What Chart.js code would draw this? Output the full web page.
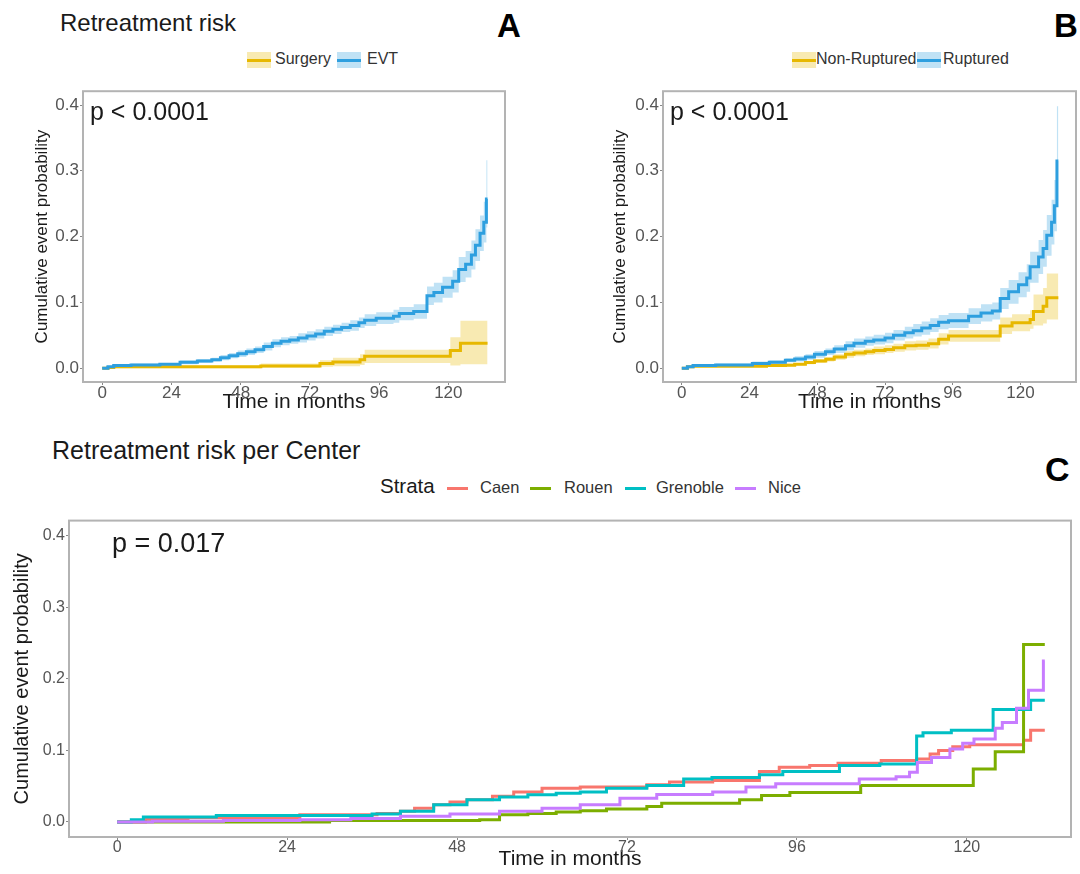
<!DOCTYPE html>
<html>
<head>
<meta charset="utf-8">
<script src="https://cdn.jsdelivr.net/npm/chart.js@4.4.1/dist/chart.umd.min.js"></script>
<style>
  body { margin: 0; background: #fff; }
  #page { position: relative; width: 1080px; height: 874px; overflow: hidden; font-family: 'Liberation Sans', Arial, sans-serif; color: #1a1a1a; }
  #page canvas { position: absolute; }
  .txt { position: absolute; white-space: nowrap; line-height: 1; z-index: 2; }
  .title { font-size: 24px; }
  .letter { font-size: 33px; font-weight: bold; color: #000; }
  .pval { font-size: 25px; }
  .leg { font-size: 16px; color: #333; }
  .sw { position: absolute; width: 24px; height: 16px; z-index: 2; }
  .sw i { position: absolute; left: 0; right: 0; top: 6.5px; height: 3px; }
  .ln { position: absolute; width: 21px; height: 3px; z-index: 2; }
</style>
</head>
<body>
<div id="page">
  <canvas id="chartA" width="512" height="335" style="left:0;top:80px"></canvas>
  <canvas id="chartB" width="500" height="335" style="left:580px;top:80px"></canvas>
  <canvas id="chartC" width="1080" height="364" style="left:0;top:510px"></canvas>

  <div class="txt title" style="left:60px;top:11px">Retreatment risk</div>
  <div class="txt letter" style="left:497px;top:9px">A</div>
  <div class="txt letter" style="left:1054px;top:9px">B</div>

  <div class="sw" style="left:247px;top:52px;background:rgba(231,184,0,0.3)"><i style="background:#E7B800"></i></div>
  <div class="txt leg" style="left:275px;top:51px">Surgery</div>
  <div class="sw" style="left:337px;top:52px;background:rgba(46,159,223,0.3)"><i style="background:#2E9FDF"></i></div>
  <div class="txt leg" style="left:367px;top:51px">EVT</div>

  <div class="sw" style="left:792px;top:52px;background:rgba(231,184,0,0.3)"><i style="background:#E7B800"></i></div>
  <div class="txt leg" style="left:816px;top:51px">Non-Ruptured</div>
  <div class="sw" style="left:917px;top:52px;background:rgba(46,159,223,0.3)"><i style="background:#2E9FDF"></i></div>
  <div class="txt leg" style="left:943px;top:51px">Ruptured</div>

  <div class="txt pval" style="left:90px;top:99px">p &lt; 0.0001</div>
  <div class="txt pval" style="left:670px;top:99px">p &lt; 0.0001</div>

  <div class="txt title" style="left:52px;top:438px;font-size:25px">Retreatment risk per Center</div>
  <div class="txt letter" style="left:1045px;top:452px;font-size:34px">C</div>
  <div class="txt" style="left:380px;top:476px;font-size:20.5px">Strata</div>
  <div class="ln" style="left:447px;top:487px;background:#F8766D"></div>
  <div class="txt leg" style="left:480px;top:479px;font-size:16.5px">Caen</div>
  <div class="ln" style="left:530px;top:487px;background:#7CAE00"></div>
  <div class="txt leg" style="left:564px;top:479px;font-size:16.5px">Rouen</div>
  <div class="ln" style="left:625px;top:487px;background:#00BFC4"></div>
  <div class="txt leg" style="left:656px;top:479px;font-size:16.5px">Grenoble</div>
  <div class="ln" style="left:735px;top:487px;background:#C77CFF"></div>
  <div class="txt leg" style="left:768px;top:479px;font-size:16.5px">Nice</div>
  <div class="txt pval" style="left:112px;top:530px;font-size:27px">p = 0.017</div>
</div>

<script>
// tick labels
const xTicks = [0, 24, 48, 72, 96, 120];
const yTicks = [0, 0.1, 0.2, 0.3, 0.4];

// Panel A - treatment
const evtTime  = [0, 2, 4, 10, 20, 27, 33, 38, 41, 44, 47, 50, 53, 56, 59, 62, 65, 68, 71, 74, 77, 80, 83, 86, 89, 91, 95, 101, 103, 108, 112.6, 115, 118, 121.5, 123.6, 126, 128, 129.4, 131, 132.3, 133.2, 133.6];
const evtRisk  = [0, 0.002, 0.004, 0.005, 0.006, 0.009, 0.011, 0.013, 0.016, 0.019, 0.022, 0.025, 0.028, 0.033, 0.038, 0.041, 0.043, 0.046, 0.049, 0.052, 0.056, 0.059, 0.062, 0.065, 0.069, 0.073, 0.076, 0.079, 0.083, 0.086, 0.110, 0.115, 0.123, 0.132, 0.150, 0.158, 0.172, 0.187, 0.205, 0.222, 0.257, 0.257];
const evtLower = [0, 0.001, 0.002, 0.003, 0.004, 0.006, 0.008, 0.010, 0.012, 0.015, 0.017, 0.020, 0.023, 0.027, 0.032, 0.035, 0.037, 0.039, 0.042, 0.045, 0.049, 0.052, 0.055, 0.057, 0.061, 0.064, 0.067, 0.069, 0.073, 0.075, 0.096, 0.100, 0.107, 0.115, 0.131, 0.138, 0.150, 0.163, 0.178, 0.191, 0.214, 0.214];
const evtUpper = [0, 0.003, 0.006, 0.007, 0.008, 0.012, 0.014, 0.016, 0.020, 0.023, 0.027, 0.030, 0.033, 0.039, 0.044, 0.047, 0.049, 0.053, 0.056, 0.059, 0.063, 0.066, 0.069, 0.073, 0.077, 0.082, 0.085, 0.089, 0.093, 0.097, 0.124, 0.130, 0.139, 0.149, 0.169, 0.178, 0.194, 0.211, 0.232, 0.253, 0.316, 0.316];

const surgTime  = [0, 2, 4, 55, 75.5, 80, 89.4, 91, 120.7, 124.2, 133.6];
const surgRisk  = [0, 0.001, 0.002, 0.0035, 0.007, 0.0095, 0.013, 0.018, 0.027, 0.038, 0.038];
const surgLower = [0, 0, 0, 0.0005, 0.002, 0.003, 0.005, 0.008, 0.004, 0.006, 0.006];
const surgUpper = [0, 0.002, 0.004, 0.007, 0.012, 0.016, 0.021, 0.028, 0.047, 0.072, 0.072];

// Panel B - rupture status
const rupTime  = [0, 2, 4, 12, 25, 31, 36.7, 40, 43.8, 47, 50.9, 54, 58, 61, 65, 68, 72, 75, 79, 82, 85, 88, 91, 94.5, 101.6, 106, 110, 112.8, 115.8, 119.3, 122.2, 123.4, 126.4, 128, 129.3, 131, 132, 132.9, 133.4];
const rupRisk  = [0, 0.002, 0.004, 0.005, 0.007, 0.009, 0.012, 0.014, 0.017, 0.021, 0.025, 0.029, 0.034, 0.038, 0.041, 0.043, 0.046, 0.050, 0.054, 0.057, 0.061, 0.065, 0.070, 0.072, 0.079, 0.084, 0.087, 0.106, 0.116, 0.127, 0.137, 0.154, 0.169, 0.182, 0.202, 0.222, 0.247, 0.315, 0.315];
const rupLower = [0, 0.001, 0.002, 0.003, 0.005, 0.006, 0.009, 0.010, 0.013, 0.016, 0.020, 0.023, 0.027, 0.031, 0.034, 0.036, 0.038, 0.042, 0.045, 0.048, 0.051, 0.055, 0.059, 0.061, 0.067, 0.071, 0.074, 0.090, 0.098, 0.108, 0.116, 0.130, 0.143, 0.154, 0.171, 0.188, 0.208, 0.245, 0.245];
const rupUpper = [0, 0.003, 0.006, 0.007, 0.010, 0.012, 0.015, 0.018, 0.021, 0.026, 0.030, 0.035, 0.041, 0.045, 0.048, 0.051, 0.054, 0.058, 0.063, 0.067, 0.071, 0.076, 0.081, 0.084, 0.091, 0.097, 0.100, 0.122, 0.134, 0.146, 0.158, 0.177, 0.195, 0.210, 0.233, 0.256, 0.286, 0.398, 0.398];

const nonRupTime  = [0, 2, 4, 30, 36.7, 40, 43.8, 47, 51, 54, 58, 61, 65, 68, 72, 75, 79, 83, 87.4, 91, 94.5, 112.8, 117, 123.4, 124.6, 128, 129.3, 133.4];
const nonRupRisk  = [0, 0.002, 0.003, 0.004, 0.0045, 0.006, 0.0085, 0.011, 0.0135, 0.017, 0.021, 0.023, 0.025, 0.027, 0.0285, 0.031, 0.034, 0.035, 0.037, 0.044, 0.049, 0.064, 0.069, 0.074, 0.086, 0.094, 0.107, 0.107];
const nonRupLower = [0, 0.001, 0.002, 0.002, 0.003, 0.004, 0.006, 0.008, 0.010, 0.013, 0.016, 0.018, 0.020, 0.021, 0.023, 0.025, 0.027, 0.028, 0.030, 0.036, 0.040, 0.052, 0.056, 0.060, 0.065, 0.068, 0.074, 0.074];
const nonRupUpper = [0, 0.003, 0.004, 0.006, 0.007, 0.008, 0.011, 0.014, 0.017, 0.021, 0.026, 0.028, 0.030, 0.033, 0.035, 0.037, 0.041, 0.042, 0.045, 0.053, 0.058, 0.077, 0.082, 0.088, 0.112, 0.122, 0.144, 0.144];

// Panel C - centers
const caenTime = [0, 4, 10, 25.8, 36.7, 40, 42, 44.7, 47, 49.4, 53, 56, 60, 65.4, 74.8, 78, 84.1, 90.7, 93.5, 97.8, 101.8, 107.9, 112.9, 114.8, 116, 118, 120.4, 128, 129, 131];
const caenRisk = [0, 0.004, 0.006, 0.010, 0.012, 0.015, 0.019, 0.024, 0.028, 0.031, 0.036, 0.042, 0.047, 0.049, 0.052, 0.056, 0.058, 0.0705, 0.0765, 0.079, 0.082, 0.086, 0.088, 0.095, 0.100, 0.105, 0.108, 0.114, 0.128, 0.128];

const rouenTime = [0, 30, 51.2, 54, 58, 62, 65.4, 69.1, 74.8, 76.9, 87.9, 91, 95, 105, 120.9, 124, 128, 131];
const rouenRisk = [0, 0.002, 0.003, 0.010, 0.012, 0.014, 0.0156, 0.018, 0.0215, 0.026, 0.031, 0.037, 0.041, 0.051, 0.074, 0.098, 0.248, 0.248];

const grenTime = [0, 2, 3.7, 14, 36, 40, 44.7, 49.4, 54, 58, 62, 65.4, 69.1, 74.8, 80, 84, 90.7, 94, 102, 107.7, 112.9, 113.8, 117.8, 123.7, 129, 131];
const grenRisk = [0, 0.003, 0.007, 0.009, 0.011, 0.015, 0.024, 0.031, 0.035, 0.038, 0.040, 0.042, 0.047, 0.051, 0.060, 0.062, 0.066, 0.0705, 0.079, 0.081, 0.120, 0.1245, 0.128, 0.157, 0.170, 0.170];

const niceTime = [0, 5, 15, 25.8, 33, 40, 47, 54, 60, 65.4, 71, 76.2, 84.1, 88.8, 93, 104.8, 110, 111.9, 113, 115, 117.6, 119.4, 121, 124, 125, 127, 128.7, 130.8, 131];
const niceRisk = [0, 0.001, 0.002, 0.003, 0.005, 0.008, 0.011, 0.015, 0.019, 0.024, 0.033, 0.0385, 0.042, 0.049, 0.0535, 0.060, 0.063, 0.0695, 0.083, 0.090, 0.102, 0.110, 0.116, 0.131, 0.139, 0.159, 0.184, 0.225, 0.225];

const GOLD = '#E7B800';
const BLUE = '#2E9FDF';
const GOLD_FILL = 'rgba(231, 184, 0, 0.3)';
const BLUE_FILL = 'rgba(46, 159, 223, 0.3)';

Chart.defaults.font.family = "'Liberation Sans', Arial, sans-serif";

const points = (times, values) => times.map((t, i) => ({ x: t, y: values[i] }));

function curve(label, times, values, color) {
    return {
        label: label,
        data: points(times, values),
        borderColor: color,
        borderWidth: 3,
        stepped: true,
        pointRadius: 0,
        fill: false
    };
}

function band(times, lower, upper, color) {
    return [
        { label: 'upper', data: points(times, upper), borderWidth: 0, borderColor: 'rgba(0,0,0,0)', backgroundColor: color, stepped: true, pointRadius: 0, fill: '+1' },
        { label: 'lower', data: points(times, lower), borderWidth: 0, borderColor: 'rgba(0,0,0,0)', stepped: true, pointRadius: 0, fill: false }
    ];
}

// grey box around the plotting area
const frame = {
    id: 'frame',
    afterDatasetsDraw(chart) {
        const { ctx, chartArea: a } = chart;
        ctx.save();
        ctx.strokeStyle = '#b3b3b3';
        ctx.lineWidth = 2;
        ctx.strokeRect(a.left, a.top, a.right - a.left, a.bottom - a.top);
        ctx.restore();
    }
};

function options(o) {
    return {
        responsive: false,
        animation: false,
        events: [],
        layout: { padding: { top: o.padTop, right: o.padRight, left: 0, bottom: 0 } },
        plugins: { legend: { display: false }, tooltip: { enabled: false } },
        scales: {
            x: {
                type: 'linear',
                min: o.xMin,
                max: o.xMax,
                afterFit: s => { s.height = o.xHeight; },
                afterBuildTicks: s => { s.ticks = xTicks.map(v => ({ value: v })); },
                border: { display: false },
                grid: { drawOnChartArea: false, drawTicks: true, tickLength: 3, tickColor: '#888' },
                ticks: { autoSkip: false, maxRotation: 0, padding: -2, color: '#555', font: { size: o.tickSize }, callback: v => String(v) },
                title: { display: true, text: 'Time in months', color: '#1a1a1a', font: { size: 21 }, padding: { top: 0, bottom: o.xTitlePad } }
            },
            y: {
                min: -0.021,
                max: 0.421,
                afterFit: s => { s.width = o.yWidth; },
                afterBuildTicks: s => { s.ticks = yTicks.map(v => ({ value: v })); },
                border: { display: false },
                grid: { drawOnChartArea: false, drawTicks: true, tickLength: 3, tickColor: '#888' },
                ticks: { padding: 1, color: '#555', font: { size: o.tickSize }, callback: v => v.toFixed(1) },
                title: { display: true, text: 'Cumulative event probability', color: '#1a1a1a', font: { size: o.yTitleSize }, padding: { top: o.yTitlePad, bottom: 0 } }
            }
        }
    };
}

new Chart(document.getElementById('chartA'), {
    type: 'line',
    data: {
        datasets: [
            curve('EVT', evtTime, evtRisk, BLUE),
            curve('Surgery', surgTime, surgRisk, GOLD),
            ...band(evtTime, evtLower, evtUpper, BLUE_FILL),
            ...band(surgTime, surgLower, surgUpper, GOLD_FILL)
        ]
    },
    options: options({ padTop: 8, padRight: 7, xMin: -6.65, xMax: 139.65, xHeight: 33, yWidth: 83, tickSize: 17, xTitlePad: 0.4, yTitleSize: 17, yTitlePad: 31.8 }),
    plugins: [frame]
});

new Chart(document.getElementById('chartB'), {
    type: 'line',
    data: {
        datasets: [
            curve('Ruptured', rupTime, rupRisk, BLUE),
            curve('Non-Ruptured', nonRupTime, nonRupRisk, GOLD),
            ...band(rupTime, rupLower, rupUpper, BLUE_FILL),
            ...band(nonRupTime, nonRupLower, nonRupUpper, GOLD_FILL)
        ]
    },
    options: options({ padTop: 8, padRight: 4, xMin: -6.65, xMax: 139.65, xHeight: 33, yWidth: 83, tickSize: 17, xTitlePad: 0.4, yTitleSize: 17, yTitlePad: 29.8 }),
    plugins: [frame]
});

new Chart(document.getElementById('chartC'), {
    type: 'line',
    data: {
        datasets: [
            curve('Nice', niceTime, niceRisk, '#C77CFF'),
            curve('Grenoble', grenTime, grenRisk, '#00BFC4'),
            curve('Rouen', rouenTime, rouenRisk, '#7CAE00'),
            curve('Caen', caenTime, caenRisk, '#F8766D')
        ]
    },
    options: options({ padTop: 8, padRight: 9, xMin: -6.8, xMax: 134.7, xHeight: 37, yWidth: 69, tickSize: 16, xTitlePad: 2.4, yTitleSize: 20, yTitlePad: 10 }),
    plugins: [frame]
});
</script>
</body>
</html>
